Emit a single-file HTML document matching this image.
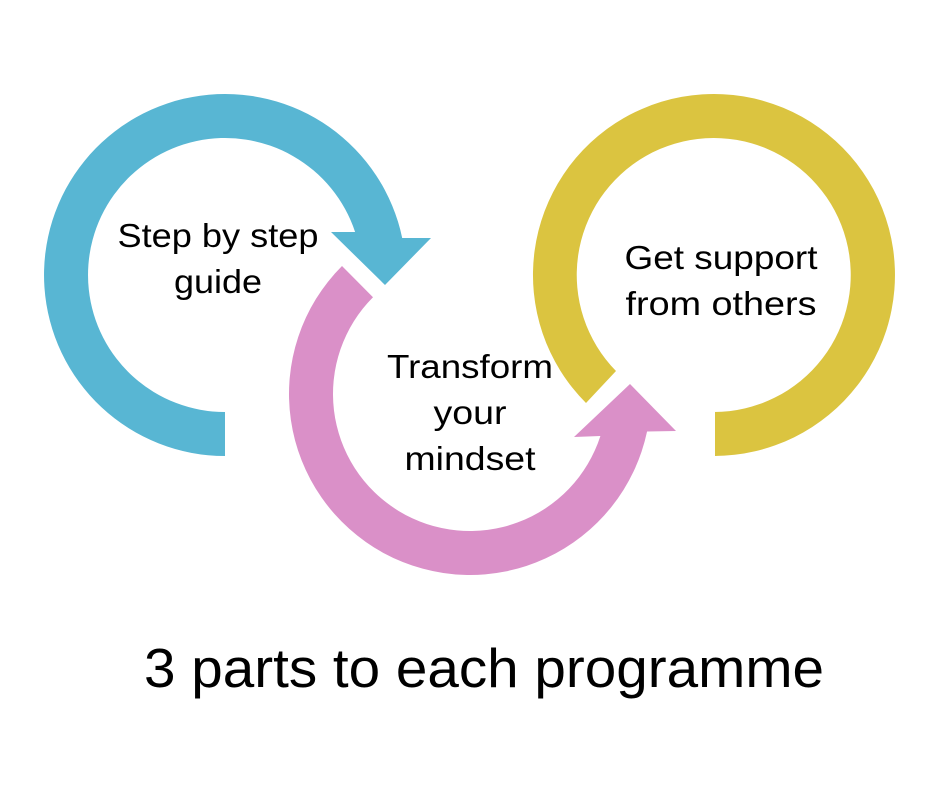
<!DOCTYPE html>
<html>
<head>
<meta charset="utf-8">
<style>
html,body{margin:0;padding:0;background:#fff;}
svg{display:block;}
text{font-family:"Liberation Sans",sans-serif;fill:#000;}
</style>
</head>
<body>
<svg width="940" height="788" viewBox="0 0 940 788" xmlns="http://www.w3.org/2000/svg">
<rect width="940" height="788" fill="#fff"/>
<path d="M225 456 A181 181 0 1 1 402.2 238 L431 238 L385 285 L331 232 L355.1 232 A137 137 0 1 0 225 412 Z" fill="#58b6d3"/>
<path d="M342 266 A181 181 0 1 0 647.07 431.5 L676 431 L630 384 L574 437 L600.4 436 A137 137 0 1 1 373 297.25 Z" fill="#da90c8"/>
<path d="M715 456 L714 456 A181 181 0 1 0 586 403 L616 371 A137 137 0 1 1 714 412 L715 412 Z" fill="#dbc440"/>
<g font-size="33" text-anchor="middle">
<text x="218" y="247" textLength="201" lengthAdjust="spacingAndGlyphs">Step by step</text>
<text x="218" y="293" textLength="88" lengthAdjust="spacingAndGlyphs">guide</text>
<text x="721" y="269" textLength="193" lengthAdjust="spacingAndGlyphs">Get support</text>
<text x="721" y="315" textLength="191" lengthAdjust="spacingAndGlyphs">from others</text>
<text x="470" y="378" textLength="166" lengthAdjust="spacingAndGlyphs">Transform</text>
<text x="470" y="424" textLength="73" lengthAdjust="spacingAndGlyphs">your</text>
<text x="470" y="470" textLength="131" lengthAdjust="spacingAndGlyphs">mindset</text>
</g>
<text x="484" y="687" font-size="55" text-anchor="middle" textLength="680" lengthAdjust="spacingAndGlyphs">3 parts to each programme</text>
</svg>
</body>
</html>
